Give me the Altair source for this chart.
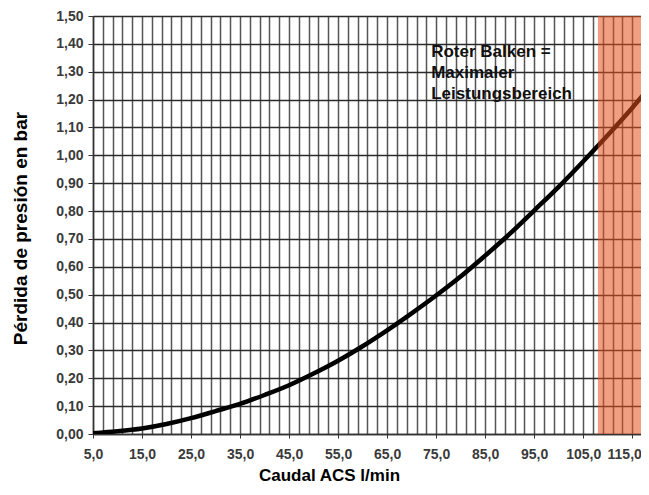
import altair as alt
import pandas as pd

# Flow (l/min) and pressure loss (bar)
flow = [5, 10, 15, 20, 25, 30, 35, 40, 45, 50, 55, 60, 65, 70, 75, 80, 85, 90, 95, 100, 105, 110, 115, 118.5]
loss = [0.003, 0.010, 0.020, 0.036, 0.057, 0.082, 0.108, 0.140, 0.175, 0.217, 0.263, 0.315, 0.372, 0.433, 0.497,
        0.565, 0.640, 0.718, 0.802, 0.887, 0.978, 1.072, 1.170, 1.243]

x_grid = [5, 7, 9, 11, 13, 15, 17, 19, 21, 23, 25, 27, 29, 31, 33, 35, 37, 39, 41, 43, 45, 47, 49, 51, 53, 55, 57,
          59, 61, 63, 65, 67, 69, 71, 73, 75, 77, 79, 81, 83, 85, 87, 89, 91, 93, 95, 97, 99, 101, 103, 105, 107,
          109, 111, 113, 115, 117]
y_ticks = [0.0, 0.1, 0.2, 0.3, 0.4, 0.5, 0.6, 0.7, 0.8, 0.9, 1.0, 1.1, 1.2, 1.3, 1.4, 1.5]
x_domain = [5, 116.8]
y_domain = [0, 1.5]

band_start = [108]
band_end = [117]

note_lines = ["Roter Balken =", "Maximaler", "Leistungsbereich"]
note_x = [74]
note_y = [1.40]

FONT = "Liberation Sans"

curve = pd.DataFrame({"q": flow, "p": loss})
band = pd.DataFrame({"start": band_start, "end": band_end})
note = pd.DataFrame({"x": note_x, "y": note_y, "t": [note_lines]})

tick_test = "(datum.value - 5) % 10 == 0"

x_axis = alt.Axis(
    values=x_grid,
    grid=True,
    gridColor="#555555",
    gridWidth=1.5,
    domainColor="#333333",
    domainWidth=1.5,
    tickColor="#333333",
    tickSize=4,
    tickOpacity={"condition": {"test": tick_test, "value": 1}, "value": 0},
    labelExpr="(datum.value - 5) % 10 == 0 ? replace(format(datum.value, '.1f'), '.', ',') : ''",
    labelOffset={"condition": {"test": "datum.value >= 115", "value": -8}, "value": 0},
    labelOverlap=False,
    labelFlush=False,
    labelPadding=9,
    labelFont=FONT,
    labelFontSize=14,
    labelFontWeight="bold",
    labelColor="#3a3a3a",
    title="Caudal ACS l/min",
    titleFont=FONT,
    titleFontSize=17,
    titleFontWeight="bold",
    titleColor="#000000",
    titleX=236,
    titleY=41,
    titleAlign="center",
    titleBaseline="middle",
)

y_axis = alt.Axis(
    values=y_ticks,
    grid=True,
    gridColor="#2b2b2b",
    gridWidth=1.4,
    domainColor="#333333",
    domainWidth=1.5,
    tickColor="#333333",
    tickSize=5,
    labelPadding=5,
    labelExpr="replace(format(datum.value, '.2f'), '.', ',')",
    labelOverlap=False,
    labelFlush=False,
    labelFont=FONT,
    labelFontSize=14,
    labelFontWeight="bold",
    labelColor="#3a3a3a",
    title="Pérdida de presión en bar",
    titleFont=FONT,
    titleFontSize=19,
    titleFontWeight="bold",
    titleColor="#000000",
    titleX=-73,
    titleY=212,
    titleAngle=270,
    titleAlign="center",
    titleBaseline="middle",
)

xs = alt.Scale(domain=x_domain, nice=False, zero=False)
ys = alt.Scale(domain=y_domain, nice=False, zero=True)

line = alt.Chart(curve).mark_line(color="#000000", strokeWidth=4.5, interpolate="monotone", clip=True).encode(
    x=alt.X("q:Q", scale=xs, axis=x_axis),
    y=alt.Y("p:Q", scale=ys, axis=y_axis),
)

rect = alt.Chart(band).mark_rect(color="#e3501e", opacity=0.55, clip=True).encode(
    x=alt.X("start:Q", scale=xs, axis=x_axis),
    x2="end:Q",
    y=alt.Y(datum=1.5, scale=ys, axis=y_axis),
    y2=alt.datum(0),
)

text = alt.Chart(note).mark_text(
    align="left", baseline="top", font=FONT, fontSize=17, fontWeight="bold",
    color="#111111", lineHeight=21,
).encode(
    x=alt.X("x:Q", scale=xs, axis=x_axis),
    y=alt.Y("y:Q", scale=ys, axis=y_axis),
    text="t",
)

chart = alt.layer(line, rect, text).properties(
    width=548,
    height=418,
    autosize=alt.AutoSizeParams(type="none"),
    padding={"left": 85, "top": 8, "right": 0, "bottom": 53},
    background="white",
).configure_view(strokeWidth=0)

chart.save("out.html", embed_options={"renderer": "svg", "actions": False})
